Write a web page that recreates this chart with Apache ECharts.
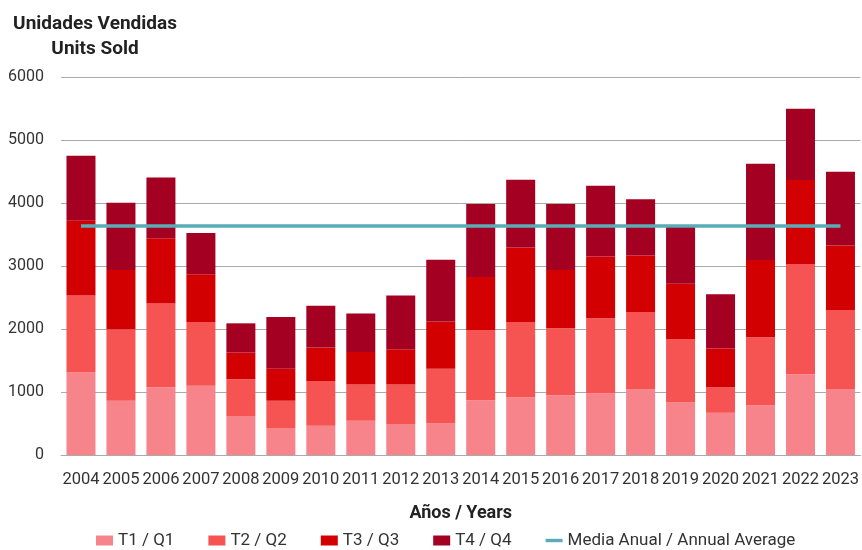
<!DOCTYPE html>
<html>
<head>
<meta charset="utf-8">
<script src="https://cdn.jsdelivr.net/npm/echarts@6/dist/echarts.min.js"></script>
<style>html,body{margin:0;padding:0;background:#fff}#c{width:862px;height:550px}</style>
</head>
<body>
<div id="c"></div>
<script>
const years = ['2004','2005','2006','2007','2008','2009','2010','2011','2012','2013','2014','2015','2016','2017','2018','2019','2020','2021','2022','2023'];
const q1 = [1310, 860, 1075, 1100, 620, 420, 465, 545, 485, 505, 870, 915, 950, 980, 1040, 835, 670, 790, 1280, 1040];
const q2 = [1220, 1135, 1330, 1010, 580, 440, 710, 575, 635, 865, 1115, 1195, 1060, 1190, 1230, 1005, 400, 1080, 1750, 1260];
const q3 = [1190, 940, 1035, 760, 425, 510, 530, 515, 560, 750, 840, 1185, 925, 980, 895, 880, 620, 1225, 1335, 1025];
const q4 = [1030, 1070, 965, 655, 465, 820, 665, 610, 850, 980, 1160, 1075, 1050, 1125, 895, 930, 860, 1530, 1130, 1170];
const avg = [3635, 3635, 3635, 3635, 3635, 3635, 3635, 3635, 3635, 3635, 3635, 3635, 3635, 3635, 3635, 3635, 3635, 3635, 3635, 3635];
const yTicks = [0, 1000, 2000, 3000, 4000, 5000, 6000];

const chart = echarts.init(document.getElementById('c'), null, {renderer: 'canvas'});
const font = 'Roboto, "Liberation Sans Narrow", sans-serif';
const bar = (name, data, color) => ({
  name, type: 'bar', stack: 'q', data, barWidth: 29,
  itemStyle: {color}, emphasis: {disabled: true}
});
chart.setOption({
  animation: false,
  textStyle: {fontFamily: font},
  title: {
    text: 'Unidades Vendidas\nUnits Sold',
    left: 90, top: 7,
    textAlign: 'center',
    textStyle: {fontFamily: font, fontWeight: 'bold', fontSize: 19, color: '#222', lineHeight: 25}
  },
  grid: {left: 61, right: 1, top: 77, bottom: 95},
  legend: {
    top: 527, left: 91, itemWidth: 17, itemHeight: 10, itemGap: 34,
    textStyle: {fontFamily: font, fontSize: 17, color: '#333'},
    data: [
      {name: 'T1 / Q1', icon: 'rect'},
      {name: 'T2 / Q2', icon: 'rect'},
      {name: 'T3 / Q3', icon: 'rect'},
      {name: 'T4 / Q4', icon: 'rect'},
      {name: 'Media Anual / Annual Average', icon: 'path://M0,3.5 L20,3.5 L20,7.5 L0,7.5 Z'}
    ]
  },
  xAxis: {
    type: 'category', data: years,
    name: 'Años / Years', nameLocation: 'middle', nameGap: 49,
    nameTextStyle: {fontFamily: font, fontWeight: 'bold', fontSize: 18, color: '#222'},
    axisLine: {show: true, lineStyle: {color: '#aaa'}},
    axisTick: {show: false},
    axisLabel: {fontFamily: font, fontSize: 16.5, color: '#333', margin: 16, interval: 0}
  },
  yAxis: {
    type: 'value', min: yTicks[0], max: yTicks[yTicks.length - 1], interval: 1000,
    axisLabel: {fontFamily: font, fontSize: 16, color: '#333', margin: 17, formatter: v => String(v)},
    splitLine: {lineStyle: {color: '#aaa', width: 1}},
    axisLine: {show: false}, axisTick: {show: false}
  },
  series: [
    bar('T1 / Q1', q1, '#f7848b'),
    bar('T2 / Q2', q2, '#f65353'),
    bar('T3 / Q3', q3, '#d20000'),
    bar('T4 / Q4', q4, '#a30022'),
    {
      name: 'Media Anual / Annual Average', type: 'line', data: avg,
      symbol: 'none', lineStyle: {color: '#5aacb8', width: 3.5}, itemStyle: {color: '#5aacb8'},
      z: 5
    }
  ]
});
</script>
</body>
</html>
